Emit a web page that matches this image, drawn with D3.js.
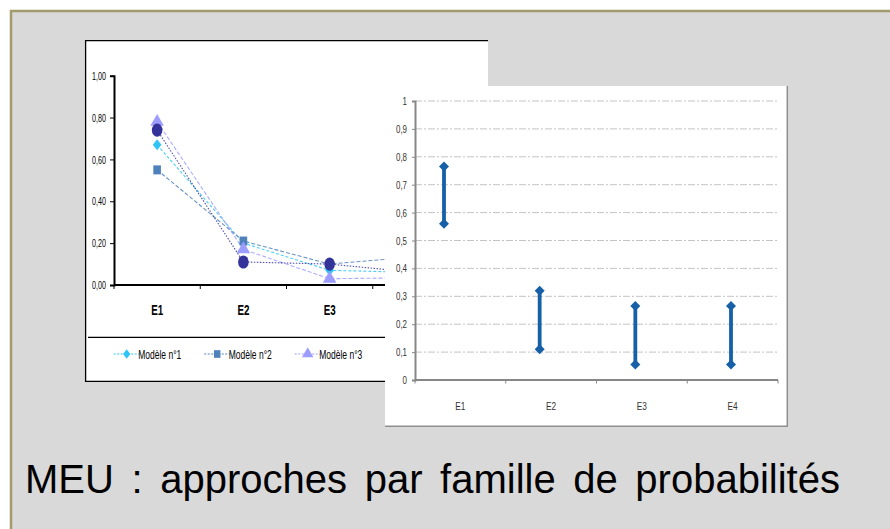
<!DOCTYPE html>
<html>
<head>
<meta charset="utf-8">
<script src="https://cdn.jsdelivr.net/npm/d3@7"></script>
<style>
  body { margin: 0; background: #fff; }
  svg { display: block; }
  text { font-family: "Liberation Sans", Arial, sans-serif; }
</style>
</head>
<body>
<svg id="slide" width="890" height="529"></svg>
<script>
// ---- data ----
const categories = ["E1", "E2", "E3", "E4"];
const seriesNames = ["Modèle n°1", "Modèle n°2", "Modèle n°3", "Modèle n°4"];
const model1 = [0.67, 0.20, 0.07, 0.06];
const model2 = [0.55, 0.21, 0.10, 0.135];
const model3 = [0.78, 0.17, 0.03, 0.035];
const model4 = [0.74, 0.11, 0.10, 0.06];
const leftTicks = [0, 0.2, 0.4, 0.6, 0.8, 1.0];
const rangeMin = [0.56, 0.11, 0.056, 0.056];
const rangeMax = [0.765, 0.32, 0.265, 0.265];
const rightTicks = [0, 0.1, 0.2, 0.3, 0.4, 0.5, 0.6, 0.7, 0.8, 0.9, 1];
const slideTitle = "MEU : approches par famille de probabilités";

const svg = d3.select("#slide");

// squeeze text horizontally (narrow chart fonts)
function condense(sel, k) {
  sel.each(function () {
    const w = this.getComputedTextLength();
    if (w > 0) {
      this.setAttribute("textLength", (w * k).toFixed(2));
      this.setAttribute("lengthAdjust", "spacingAndGlyphs");
    }
  });
}

function diamondPath(w, h) { return `M0,${-h}L${w},0L0,${h}L${-w},0Z`; }

// ---- slide frame ----
svg.append("rect")
  .attr("x", 11).attr("y", 11).attr("width", 900).attr("height", 540)
  .attr("fill", "#d9d9d9").attr("stroke", "#a39b6e").attr("stroke-width", 2.5);

// ================= left chart: models per event =================
const gL = svg.append("g");
gL.append("rect").attr("x", 85).attr("y", 40).attr("width", 403).attr("height", 342).attr("fill", "#fff");
gL.append("path").attr("d", "M488,40.6H85.6V381.4H488")
  .attr("fill", "none").attr("stroke", "#000").attr("stroke-width", 1.3);

const xL = d3.scaleBand().domain(categories).range([114, 459]);
const yL = d3.scaleLinear().domain([0, 1]).range([285, 75.7]);
const cxL = c => xL(c) + xL.bandwidth() / 2;

const series = [
  { name: seriesNames[0], values: model1, color: "#2ec5f5", shape: "diamond", dash: "3,2" },
  { name: seriesNames[1], values: model2, color: "#4f81bd", shape: "square", dash: "4,2" },
  { name: seriesNames[2], values: model3, color: "#9d9dff", shape: "triangle", dash: "4,2" },
  { name: seriesNames[3], values: model4, color: "#333399", shape: "blob", dash: "1.5,1.5" }
];

function drawMarker(g, shape, color, scale) {
  const s = scale || 1;
  if (shape === "diamond") {
    g.append("path").attr("d", diamondPath(4.3 * s, 5.6 * s)).attr("fill", color);
  } else if (shape === "square") {
    g.append("rect").attr("x", -3.8 * s).attr("y", -4.5 * s).attr("width", 7.6 * s).attr("height", 9 * s).attr("fill", color);
  } else if (shape === "triangle") {
    g.append("path").attr("d", d3.symbol(d3.symbolTriangle, 80 * s * s)()).attr("fill", color);
  } else {
    g.append("ellipse").attr("rx", 5.3 * s).attr("ry", 6.6 * s).attr("fill", color);
  }
}

const line = d3.line().x((d, i) => cxL(categories[i])).y(d => yL(d));
series.forEach(s => {
  gL.append("path").attr("d", line(s.values))
    .attr("fill", "none").attr("stroke", s.color).attr("stroke-width", 1.1)
    .attr("stroke-dasharray", s.dash).attr("opacity", 0.85);
});
series.forEach(s => {
  s.values.forEach((v, i) => {
    const g = gL.append("g").attr("transform", `translate(${cxL(categories[i])},${yL(v)})`);
    drawMarker(g, s.shape, s.color, 1);
  });
});

// y axis
const yAxL = gL.append("g").attr("transform", "translate(114,0)")
  .call(d3.axisLeft(yL).tickValues(leftTicks).tickSize(4).tickPadding(4)
    .tickFormat(d => d3.format(".2f")(d).replace(".", ",")));
yAxL.select(".domain").attr("stroke", "#000").attr("stroke-width", 2);
yAxL.selectAll(".tick line").attr("stroke", "#000");
yAxL.selectAll("text").attr("font-size", 11.5).attr("fill", "#000")
  .style("font-family", "'Liberation Sans', Arial, sans-serif");
condense(yAxL.selectAll("text"), 0.62);

// x axis: baseline, boundary ticks, labels
gL.append("line").attr("x1", xL.range()[0]).attr("x2", xL.range()[1])
  .attr("y1", yL(0)).attr("y2", yL(0)).attr("stroke", "#000").attr("stroke-width", 2);
categories.concat([null]).forEach(c => {
  const x = c ? xL(c) : xL.range()[1];
  gL.append("line").attr("x1", x).attr("x2", x).attr("y1", yL(0)).attr("y2", yL(0) + 4)
    .attr("stroke", "#000").attr("stroke-width", 1);
});
const xLab = gL.selectAll(".xlab").data(categories).join("text")
  .attr("x", d => cxL(d)).attr("y", 314.5).attr("text-anchor", "middle")
  .attr("font-size", 14).attr("font-weight", "bold").text(d => d);
condense(xLab, 0.7);

// legend
gL.append("line").attr("x1", 88).attr("x2", 488).attr("y1", 337.3).attr("y2", 337.3)
  .attr("stroke", "#000").attr("stroke-width", 1.3);
series.forEach((s, i) => {
  const lx = 126.7 + i * 90.5, ly = 354;
  gL.append("line").attr("x1", lx - 13).attr("x2", lx + 13).attr("y1", ly).attr("y2", ly)
    .attr("stroke", s.color).attr("stroke-dasharray", "2,1.5").attr("stroke-width", 1.1);
  const g = gL.append("g").attr("transform", `translate(${lx},${ly})`);
  drawMarker(g, s.shape, s.color, 0.85);
  const t = gL.append("text").attr("x", lx + 11.5).attr("y", ly + 4.6)
    .attr("font-size", 13.5).attr("fill", "#000").text(s.name);
  condense(t, 0.63);
});

// ================= right chart: range per event =================
const gR = svg.append("g");
gR.append("rect").attr("x", 385).attr("y", 86).attr("width", 403).attr("height", 341).attr("fill", "#fff");
gR.append("path").attr("d", "M787.3,86V426.3H385")
  .attr("fill", "none").attr("stroke", "#8f8f8f").attr("stroke-width", 1.5);

const xR = d3.scaleBand().domain(categories).range([415, 778]);
const xM = d3.scalePoint().domain(categories).range([444, 731]);
const yR = d3.scaleLinear().domain([0, 1]).range([380, 101]);

// gridlines
gR.selectAll(".grid").data(rightTicks.filter(d => d > 0)).join("line")
  .attr("x1", 415).attr("x2", 778).attr("y1", d => yR(d)).attr("y2", d => yR(d))
  .attr("stroke", "#c4c4c4").attr("stroke-width", 1).attr("stroke-dasharray", "7,2,2,2");

// y axis
const yAxR = gR.append("g").attr("transform", "translate(415,0)")
  .call(d3.axisLeft(yR).tickValues(rightTicks).tickSize(3).tickPadding(5)
    .tickFormat(d => String(d).replace(".", ",")));
yAxR.select(".domain").attr("stroke", "#878787").attr("stroke-width", 2);
yAxR.selectAll(".tick line").attr("stroke", "#878787");
yAxR.selectAll("text").attr("font-size", 11).attr("fill", "#333")
  .style("font-family", "'Liberation Sans', Arial, sans-serif");
condense(yAxR.selectAll("text"), 0.72);

// x axis
gR.append("line").attr("x1", xR.range()[0]).attr("x2", xR.range()[1])
  .attr("y1", yR(0)).attr("y2", yR(0)).attr("stroke", "#878787").attr("stroke-width", 2);
categories.concat([null]).forEach(c => {
  const x = c ? xR(c) : xR.range()[1];
  gR.append("line").attr("x1", x).attr("x2", x).attr("y1", yR(0)).attr("y2", yR(0) + 3.5)
    .attr("stroke", "#878787").attr("stroke-width", 1);
});
const xLabR = gR.selectAll(".xlabR").data(categories).join("text")
  .attr("x", d => xR(d) + xR.bandwidth() / 2).attr("y", 409.5).attr("text-anchor", "middle")
  .attr("font-size", 11.5).attr("fill", "#333").text(d => d);
condense(xLabR, 0.72);

// min–max bars
const blue = "#1660a8";
categories.forEach((c, i) => {
  const x = xM(c);
  gR.append("line").attr("x1", x).attr("x2", x)
    .attr("y1", yR(rangeMin[i])).attr("y2", yR(rangeMax[i]))
    .attr("stroke", blue).attr("stroke-width", 3.8);
  [rangeMin[i], rangeMax[i]].forEach(v => {
    gR.append("path").attr("d", diamondPath(5, 5))
      .attr("transform", `translate(${x},${yR(v)})`).attr("fill", blue);
  });
});

// ================= slide title =================
svg.append("text").attr("x", 25).attr("y", 493)
  .attr("font-size", 40).attr("fill", "#000").attr("word-spacing", 6.5)
  .text(slideTitle);
</script>
</body>
</html>
